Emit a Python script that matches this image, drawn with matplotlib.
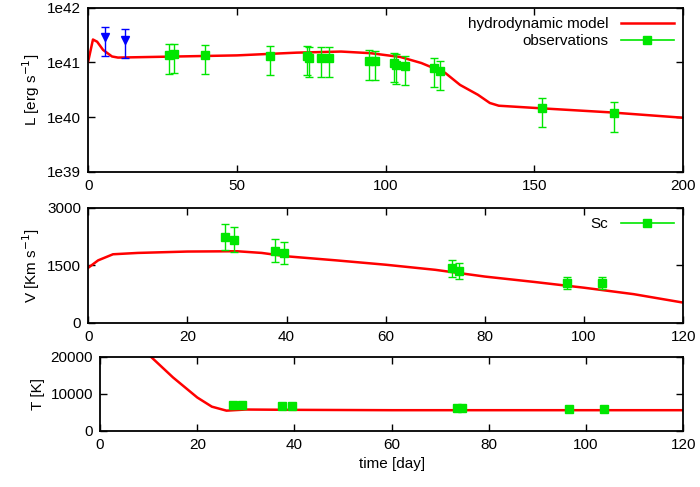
import numpy as np
import matplotlib
matplotlib.use("Agg")
import matplotlib.pyplot as plt
from matplotlib.ticker import FixedLocator, FixedFormatter
from matplotlib.lines import Line2D

plt.rcParams['font.family'] = ['Liberation Sans', 'DejaVu Sans']
plt.rcParams['font.size'] = 11

# Luminosity panel
model_t = [0, 1.6, 3, 5, 8, 10, 30, 50, 70, 85, 95, 105, 112, 120, 125, 128, 131, 135, 138, 150, 175, 200]
model_logL = [41.02, 41.42, 41.38, 41.23, 41.11, 41.09, 41.11, 41.13, 41.18, 41.2, 41.17, 41.1, 40.99, 40.81, 40.59, 40.50, 40.41, 40.26, 40.21, 40.17, 40.09, 39.99]
obs_t = [27.1, 29.0, 39.2, 61.2, 73.4, 74.3, 78.2, 81.1, 94.3, 96.3, 102.7, 103.5, 106.4, 116.4, 118.2, 152.4, 176.6]
obs_logL = [41.14, 41.15, 41.13, 41.12, 41.12, 41.09, 41.085, 41.085, 41.03, 41.02, 40.99, 40.96, 40.93, 40.90, 40.84, 40.16, 40.08]
obs_frac_err = 0.55
lim_t = [5.6, 12.5]
lim_logL = [41.46, 41.42]
lim_up = [0.19, 0.20]
lim_dn = [0.34, 0.34]

# Velocity panel
vmod_t = [0, 2, 5, 10, 20, 30, 35, 40, 50, 60, 70, 80, 90, 100, 110, 120]
vmod_v = [1438, 1632, 1791, 1826, 1862, 1870, 1826, 1738, 1632, 1518, 1385, 1209, 1068, 918, 750, 529]
vobs_t = [27.5, 29.4, 37.6, 39.5, 73.4, 74.7, 96.6, 103.6]
vobs_v = [2250, 2170, 1880, 1818, 1420, 1350, 1041, 1041]
vobs_err = [340, 330, 300, 290, 210, 200, 165, 165]

# Temperature panel
tmod_t = [10.5, 15, 20, 23, 26, 30, 40, 60, 80, 100, 120]
tmod_T = [20000, 14476, 9048, 6571, 5500, 5800, 5714, 5620, 5620, 5620, 5620]
tobs_t = [27.3, 29.3, 37.5, 39.4, 73.5, 74.5, 96.6, 103.6]
tobs_T = [7140, 7140, 6760, 6760, 6190, 6190, 6000, 5810]

red = '#ff0000'
green = '#00e600'
blue = '#0000ff'

fig = plt.figure(figsize=(7, 4.87), dpi=100)

def style(ax):
    ax.tick_params(direction='in', top=True, right=True, length=5, width=1, colors='black', pad=5)
    for s in ax.spines.values():
        s.set_linewidth(1.3)

obs_handle = Line2D([], [], color=green, marker='s', ms=6, lw=1.2)

# top
ax1 = fig.add_axes([0.126, 0.647, 0.85, 0.337])
ax1.set_yscale('log')
l1, = ax1.plot(model_t, 10**np.array(model_logL), color=red, lw=1.8)
L = 10**np.array(obs_logL)
ax1.errorbar(obs_t, L, yerr=obs_frac_err*L, fmt='s', color=green, ms=6, capsize=3, elinewidth=1)
Ll = 10**np.array(lim_logL)
ax1.errorbar(lim_t, Ll, yerr=[Ll*(1-10**-np.array(lim_dn)), Ll*(10**np.array(lim_up)-1)], fmt='v', color=blue, ms=6, capsize=3, elinewidth=1)
ax1.set_xlim(0, 200)
ax1.set_ylim(1e39, 1e42)
ax1.yaxis.set_major_locator(FixedLocator([1e39, 1e40, 1e41, 1e42]))
ax1.yaxis.set_major_formatter(FixedFormatter(['1e39', '1e40', '1e41', '1e42']))
ax1.yaxis.set_minor_locator(FixedLocator([]))
ax1.set_xticks([0, 50, 100, 150, 200])
ax1.set_ylabel('L [erg s$^{-1}$]')
style(ax1)
ax1.legend([l1, obs_handle], ['hydrodynamic model', 'observations'], loc='upper right', frameon=False,
           markerfirst=False, handlelength=3.5, borderaxespad=0.2, labelspacing=0.2)

# middle
ax2 = fig.add_axes([0.126, 0.337, 0.85, 0.236])
ax2.plot(vmod_t, vmod_v, color=red, lw=1.8)
ax2.errorbar(vobs_t, vobs_v, yerr=vobs_err, fmt='s', color=green, ms=6, capsize=3, elinewidth=1)
ax2.set_xlim(0, 120)
ax2.set_ylim(0, 3000)
ax2.set_yticks([0, 1500, 3000])
ax2.set_xticks(range(0, 121, 20))
ax2.set_ylabel('V [Km s$^{-1}$]')
style(ax2)
ax2.legend([obs_handle], ['Sc'], loc='upper right', frameon=False, markerfirst=False,
           handlelength=3.5, borderaxespad=0.2)

# bottom
ax3 = fig.add_axes([0.143, 0.115, 0.833, 0.152])
ax3.plot(tmod_t, tmod_T, color=red, lw=1.8)
ax3.plot(tobs_t, tobs_T, 's', color=green, ms=6)
ax3.set_xlim(0, 120)
ax3.set_ylim(0, 20000)
ax3.set_yticks([0, 10000, 20000])
ax3.set_xticks(range(0, 121, 20))
ax3.set_ylabel('T [K]')
ax3.set_xlabel('time [day]')
style(ax3)

fig.savefig('out.png', dpi=100)
